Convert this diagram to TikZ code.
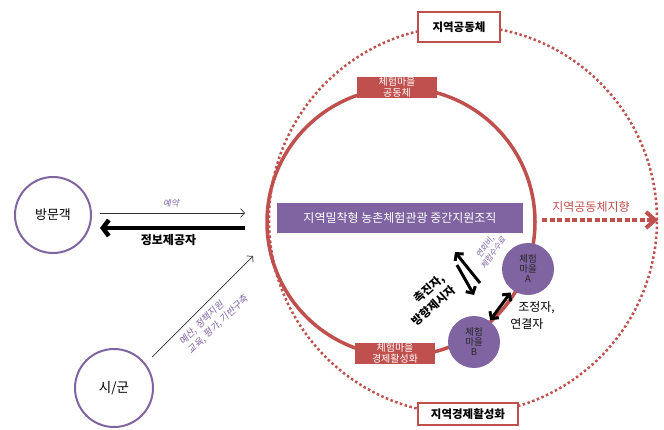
\documentclass[tikz,border=0pt]{standalone}
\usepackage{fontspec}
\setmainfont{Noto Sans CJK KR}
\newfontfamily\krit{Noto Sans CJK KR}[FakeSlant=0.2]
\usetikzlibrary{arrows.meta}
\definecolor{cred}{HTML}{C0504D}
\definecolor{cpurple}{HTML}{8064A2}
\definecolor{ctext}{HTML}{7F63A8}
\newcommand{\fs}[1]{\fontsize{#1}{#1}\selectfont}
\begin{document}
\begin{tikzpicture}[x=1pt,y=-1pt,
  actor/.style={circle, draw=cpurple, line width=2pt, minimum size=76pt, inner sep=0pt, font=\fs{13}},
  village/.style={circle, fill=cpurple, minimum size=52pt, inner sep=0pt, align=center, font=\fontsize{9.5}{10}\selectfont, text=black!85},
  redbox/.style={fill=cred, text=white, minimum width=80pt, minimum height=21pt, inner sep=0pt, align=center, font=\fontsize{10}{11}\selectfont},
  framebox/.style={draw=cred, line width=2.5pt, fill=white, inner sep=0pt, font=\bfseries\fs{11.5}},
  thinarrow/.style={line width=0.7pt, black!80, -{Straight Barb[length=4pt,width=9pt]}},
  thickarrow/.style={line width=3pt, black, -{Straight Barb[length=5pt,width=11pt]}},
  notetext/.style={text=ctext, font=\krit\fontsize{9.5}{12.5}\selectfont}
]
\useasboundingbox (0,0) rectangle (664,429);
% outer dotted circle
\draw[cred, line width=2.5pt, dash pattern=on 2.5pt off 2.5pt] (463,220) circle[radius=194pt];
% inner solid circle
\draw[cred, line width=3.5pt] (401,222) circle[radius=134pt];
% frame labels
\node[framebox, minimum width=82pt, minimum height=30pt] (lc) at (459,27) {지역공동체};
\node[framebox, minimum width=100pt, minimum height=22pt] (le) at (468,414) {지역경제활성화};
% red boxes on inner circle
\node[redbox] (comm) at (397,87.5) {체험마을\\공동체};
\node[redbox] (econ) at (395,353) {체험마을\\경제활성화};
% central organisation
\node[fill=cpurple, text=white, minimum width=246pt, minimum height=30pt, inner sep=0pt, font=\fs{12}] (org) at (400,218) {지역밀착형 농촌체험관광 중간지원조직};
% actors
\node[actor] (visitor) at (53,215) {방문객};
\node[actor, minimum size=78pt, font=\fs{13.5}] (city) at (114,388) {시/군};
% villages
\node[village] (va) at (528,269) {체험\\마을\\A};
\node[village] (vb) at (474,342) {체험\\마을\\B};
% visitor arrows
\coordinate (r1) at (100,213);
\coordinate (r2) at (245,213);
\coordinate (p1) at (245,228);
\coordinate (p2) at (100,228);
\draw[thinarrow] (r1) -- (r2);
\node[notetext, font=\krit\fs{8.5}] (resv) at (171,203) {예약};
\draw[line width=4.5pt, -{Straight Barb[length=6pt,width=16pt]}] (p1) -- (p2);
\node[font=\bfseries\fs{12}] (info) at (168.5,240) {정보제공자};
% city arrow
\coordinate (c1) at (152,357);
\coordinate (c2) at (253,256);
\draw[thinarrow] (c1) -- (c2);
\node[notetext, rotate=44, align=left] (budget) at (214,320) {예산, 정책지원\\교육, 평가, 기반구축};
% org <-> villages
\coordinate (u1) at (480,283);
\coordinate (u2) at (455,252);
\coordinate (d1) at (457,265);
\coordinate (d2) at (474,295);
\draw[thickarrow] (u1) -- (u2);
\draw[thickarrow] (d1) -- (d2);
\node[rotate=42, align=right, font=\bfseries\fontsize{11.5}{16}\selectfont] (facil) at (428,300) {촉진자,\\방향제시자};
\node[notetext, rotate=55, align=center, font=\krit\fontsize{8}{10}\selectfont] (fee) at (489,250) {연회비,\\체험수수료};
% village A <-> B
\draw[line width=3pt, {Straight Barb[length=5pt,width=11pt]}-{Straight Barb[length=5pt,width=11pt]}, shorten <=3pt, shorten >=1pt] (va) -- (vb);
\node[align=left, font=\fontsize{12}{17}\selectfont] (coord) at (532.5,315.5) {\hspace{8pt}조정자,\\연결자};
% community orientation arrow
\coordinate (o1) at (542,220);
\coordinate (o2) at (658,220);
\draw[cred, line width=4pt, dash pattern=on 5pt off 2.5pt, -{Straight Barb[length=9pt,width=16pt]}] (o1) -- (o2);
\node[text=cred, font=\fs{12}] (orient) at (591,207) {지역공동체지향};
\end{tikzpicture}
\end{document}
